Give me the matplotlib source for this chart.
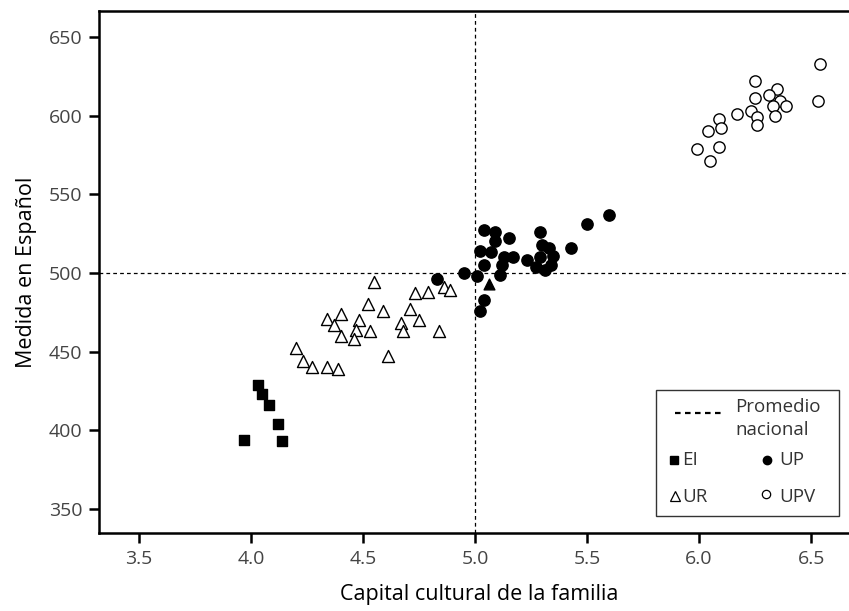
import matplotlib
matplotlib.use("Agg")
import matplotlib.pyplot as plt
from matplotlib.patches import Rectangle
from matplotlib.lines import Line2D

plt.rcParams["font.family"] = ["Open Sans", "DejaVu Sans"]

# -------------------- DATA --------------------

ei_x = [4.03, 4.05, 4.08, 4.12, 3.97, 4.14]
ei_y = [429, 423, 416, 404, 394, 393]

ur_x = [4.55, 4.73, 4.79, 4.86, 4.89, 4.52, 4.59, 4.71, 4.34, 4.40, 4.48, 4.37,
        4.67, 4.75, 4.47, 4.53, 4.68, 4.84, 4.40, 4.46, 4.20, 4.61, 4.23, 4.27,
        4.34, 4.39]
ur_y = [494, 487, 488, 491, 489, 480, 476, 477, 471, 474, 470, 467,
        468, 470, 464, 463, 463, 463, 460, 458, 452, 447, 444, 440,
        440, 439]

# filled triangle (unlabelled in legend)
tri_x = [5.06]
tri_y = [493]

up_x = [5.04, 5.09, 5.09, 5.15, 5.02, 5.07, 5.13, 5.17, 5.04, 5.12, 5.11, 4.95,
        4.83, 5.01, 5.04, 5.02, 5.29, 5.30, 5.33, 5.35, 5.23, 5.29, 5.34, 5.27,
        5.31, 5.43, 5.50, 5.60]
up_y = [527, 526, 520, 522, 514, 513, 510, 510, 505, 505, 499, 500,
        496, 498, 483, 476, 526, 518, 516, 511, 508, 510, 505, 504,
        502, 516, 531, 537]

upv_x = [6.54, 6.53, 6.25, 6.35, 6.31, 6.25, 6.36, 6.39, 6.33, 6.23, 6.17, 6.26,
         6.34, 6.26, 6.09, 6.10, 6.04, 6.09, 5.99, 6.05]
upv_y = [633, 609, 622, 617, 613, 611, 609, 606, 606, 603, 601, 599,
         600, 594, 598, 592, 590, 580, 579, 571]

national_mean_x = 5.0
national_mean_y = 500

x_ticks = [3.5, 4.0, 4.5, 5.0, 5.5, 6.0, 6.5]
y_ticks = [350, 400, 450, 500, 550, 600, 650]

# -------------------- PLOT --------------------

fig = plt.figure(figsize=(8.49, 6.11), dpi=100)
ax = fig.add_axes([99 / 849, 78 / 611, 760 / 849, 522 / 611])

dash = (0, (3, 2.5))
ax.axhline(national_mean_y, color="black", lw=0.9, ls=dash, zorder=1)
ax.axvline(national_mean_x, color="black", lw=0.9, ls=dash, zorder=1)

ax.scatter(ei_x, ei_y, marker="s", s=52, color="black", zorder=3)
ax.scatter(ur_x, ur_y, marker="^", s=75, facecolor="white", edgecolor="black",
           linewidth=1.0, zorder=3)
ax.scatter(tri_x, tri_y, marker="^", s=60, color="black", zorder=3)
ax.scatter(up_x, up_y, marker="o", s=66, color="black", zorder=3)
ax.scatter(upv_x, upv_y, marker="o", s=66, facecolor="white", edgecolor="black",
           linewidth=1.0, zorder=3)

# axes run a little past the right edge of the image, as in the reference
ax.set_xlim(3.321, 3.321 + 760 / 224)
ax.set_ylim(334.7, 666.5)
ax.set_xticks(x_ticks)
ax.set_xticklabels([f"{t:.1f}" for t in x_ticks])
ax.set_yticks(y_ticks)

for s in ["left", "bottom", "top"]:
    ax.spines[s].set_linewidth(1.8)
ax.spines["right"].set_visible(False)
ax.tick_params(direction="out", length=7, width=1.8, labelsize=14,
               labelcolor="#444444", pad=5)

ax.set_xlabel("Capital cultural de la familia", fontsize=15.5, labelpad=12)
ax.set_ylabel("Medida en Español", fontsize=15.5, labelpad=8)


# -------------------- LEGEND (hand drawn box) --------------------

def fx(px):
    return (px - 99) / 760


def fy(py):
    return (533 - py) / 522


tr = ax.transAxes
ax.add_patch(Rectangle((fx(656), fy(516)), fx(839) - fx(656), fy(390) - fy(516),
                       transform=tr, facecolor="white", edgecolor="#333333",
                       linewidth=1.0, zorder=5))
ax.add_line(Line2D([fx(675), fx(722)], [fy(413), fy(413)], transform=tr,
                   color="black", lw=1.6, ls=(0, (2.5, 2)), zorder=6))
txt = dict(transform=tr, fontsize=13.5, color="#333333", va="center",
           ha="left", zorder=6)
ax.text(fx(735), fy(407), "Promedio", **txt)
ax.text(fx(735), fy(430), "nacional", **txt)

ax.add_line(Line2D([fx(674)], [fy(460)], transform=tr, marker="s", ms=6,
                   color="black", ls="none", zorder=6))
ax.text(fx(682), fy(460), "EI", **txt)
ax.add_line(Line2D([fx(767)], [fy(460)], transform=tr, marker="o", ms=6,
                   color="black", ls="none", zorder=6))
ax.text(fx(779), fy(460), "UP", **txt)
ax.add_line(Line2D([fx(675)], [fy(496)], transform=tr, marker="^", ms=7,
                   mfc="white", mec="black", mew=0.9, ls="none", zorder=6))
ax.text(fx(682), fy(497), "UR", **txt)
ax.add_line(Line2D([fx(766)], [fy(494)], transform=tr, marker="o", ms=6,
                   mfc="white", mec="black", mew=0.9, ls="none", zorder=6))
ax.text(fx(779), fy(497), "UPV", **txt)

fig.savefig("out.png", dpi=100)
